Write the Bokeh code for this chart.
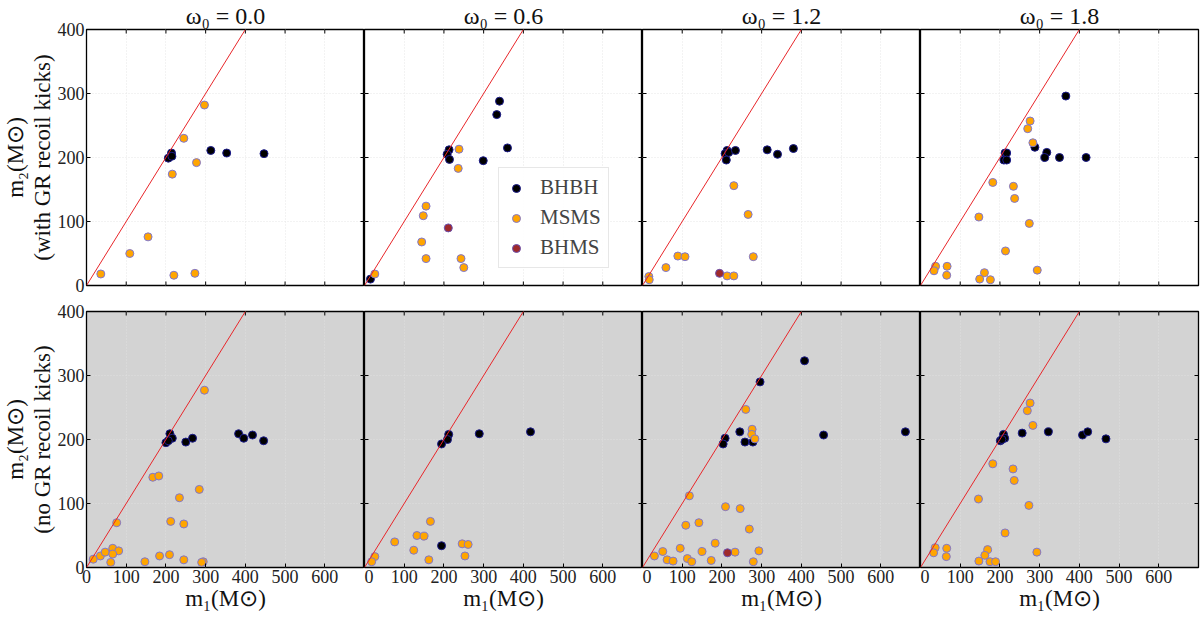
import math

from bokeh.plotting import figure
from bokeh.layouts import gridplot
from bokeh.models import Title, FixedTicker, Range1d, Legend, LegendItem, Slope
from bokeh.embed import file_html
from bokeh.resources import INLINE

OMEGAS = ["0.0", "0.6", "1.2", "1.8"]
ROW_NOTES = ["(with GR recoil kicks)", "(no GR recoil kicks)"]
X_TICKS = [0, 100, 200, 300, 400, 500, 600]
Y_TICKS = [0, 100, 200, 300, 400]
TYPES = ["BHBH", "MSMS", "BHMS"]

# ---- merger masses (M_sun), with GR recoil kicks ----
gr_w00_bhbh_m1 = [214, 206, 215, 313, 353, 447]
gr_w00_bhbh_m2 = [207, 199, 202, 211, 207, 206]
gr_w00_msms_m1 = [297, 245, 277, 216, 155, 109, 36, 220, 273]
gr_w00_msms_m2 = [282, 230, 192, 174, 76, 50, 18, 16, 19]
gr_w00_bhms_m1 = []
gr_w00_bhms_m2 = []

gr_w06_bhbh_m1 = [340, 333, 360, 299, 213, 208, 214, 15]
gr_w06_bhbh_m2 = [288, 267, 215, 195, 212, 205, 197, 10]
gr_w06_msms_m1 = [238, 236, 155, 148, 144, 155, 243, 250, 26]
gr_w06_msms_m2 = [213, 183, 124, 109, 68, 42, 42, 28, 18]
gr_w06_bhms_m1 = [211]
gr_w06_bhms_m2 = [90]

gr_w12_bhbh_m1 = [213, 208, 211, 217, 234, 314, 340, 380]
gr_w12_bhbh_m2 = [211, 206, 196, 208, 211, 212, 205, 214]
gr_w12_msms_m1 = [230, 266, 279, 89, 107, 59, 213, 230, 16, 17]
gr_w12_msms_m2 = [156, 111, 45, 46, 45, 28, 15, 15, 14, 9]
gr_w12_bhms_m1 = [194]
gr_w12_bhms_m2 = [19]

gr_w18_bhbh_m1 = [366, 288, 318, 313, 350, 417, 213, 217, 210, 217]
gr_w18_bhbh_m2 = [296, 216, 208, 200, 200, 200, 207, 207, 196, 196]
gr_w18_msms_m1 = [276, 270, 283, 182, 234, 237, 147, 274, 214, 38, 34, 67, 66, 294, 161, 149, 176]
gr_w18_msms_m2 = [257, 245, 223, 161, 155, 136, 107, 97, 54, 30, 23, 30, 16, 24, 20, 10, 9]
gr_w18_bhms_m1 = []
gr_w18_bhms_m2 = []

# ---- merger masses (M_sun), no GR recoil kicks ----
nogr_w00_bhbh_m1 = [210, 216, 200, 206, 250, 267, 383, 396, 418, 446]
nogr_w00_bhbh_m2 = [209, 202, 195, 198, 196, 202, 209, 202, 207, 198]
nogr_w00_msms_m1 = [297, 167, 182, 284, 234, 76, 212, 245, 17, 35, 47, 66, 81, 66, 61, 147, 184, 209, 245, 294, 290]
nogr_w00_msms_m2 = [277, 141, 143, 122, 109, 70, 72, 68, 13, 18, 24, 30, 26, 21, 8, 9, 18, 20, 12, 9, 8]
nogr_w00_bhms_m1 = []
nogr_w00_bhms_m2 = []

nogr_w06_bhbh_m1 = [212, 209, 194, 289, 418, 194]
nogr_w06_bhbh_m2 = [208, 200, 193, 209, 212, 34]
nogr_w06_msms_m1 = [166, 132, 150, 76, 124, 162, 246, 261, 253, 26, 18]
nogr_w06_msms_m2 = [72, 50, 49, 40, 27, 12, 37, 36, 18, 17, 9]
nogr_w06_bhms_m1 = []
nogr_w06_bhms_m2 = []

nogr_w12_bhbh_m1 = [408, 296, 245, 208, 203, 258, 278, 456, 662]
nogr_w12_bhbh_m2 = [323, 290, 212, 202, 193, 196, 196, 207, 212]
nogr_w12_msms_m1 = [260, 276, 275, 283, 118, 209, 246, 269, 109, 142, 183, 95, 150, 233, 293,
                    51, 30, 62, 77, 113, 124, 173, 279]
nogr_w12_msms_m2 = [247, 216, 208, 201, 112, 95, 92, 60, 66, 70, 38, 30, 25, 24, 26,
                    25, 18, 12, 10, 14, 9, 11, 9]
nogr_w12_bhms_m1 = [214]
nogr_w12_bhms_m2 = [23]

nogr_w18_bhbh_m1 = [209, 212, 201, 205, 256, 322, 408, 421, 467]
nogr_w18_bhbh_m2 = [208, 202, 198, 200, 210, 212, 207, 212, 201]
nogr_w18_msms_m1 = [276, 269, 283, 182, 233, 236, 146, 273, 213, 37, 33, 66, 65, 293, 169, 162, 147, 175, 189]
nogr_w18_msms_m2 = [257, 245, 222, 162, 154, 136, 107, 97, 54, 31, 23, 30, 17, 24, 28, 19, 10, 9, 9]
nogr_w18_bhms_m1 = []
nogr_w18_bhms_m2 = []

PANELS = [
    [
        [(gr_w00_bhbh_m1, gr_w00_bhbh_m2), (gr_w00_msms_m1, gr_w00_msms_m2), (gr_w00_bhms_m1, gr_w00_bhms_m2)],
        [(gr_w06_bhbh_m1, gr_w06_bhbh_m2), (gr_w06_msms_m1, gr_w06_msms_m2), (gr_w06_bhms_m1, gr_w06_bhms_m2)],
        [(gr_w12_bhbh_m1, gr_w12_bhbh_m2), (gr_w12_msms_m1, gr_w12_msms_m2), (gr_w12_bhms_m1, gr_w12_bhms_m2)],
        [(gr_w18_bhbh_m1, gr_w18_bhbh_m2), (gr_w18_msms_m1, gr_w18_msms_m2), (gr_w18_bhms_m1, gr_w18_bhms_m2)],
    ],
    [
        [(nogr_w00_bhbh_m1, nogr_w00_bhbh_m2), (nogr_w00_msms_m1, nogr_w00_msms_m2), (nogr_w00_bhms_m1, nogr_w00_bhms_m2)],
        [(nogr_w06_bhbh_m1, nogr_w06_bhbh_m2), (nogr_w06_msms_m1, nogr_w06_msms_m2), (nogr_w06_bhms_m1, nogr_w06_bhms_m2)],
        [(nogr_w12_bhbh_m1, nogr_w12_bhbh_m2), (nogr_w12_msms_m1, nogr_w12_msms_m2), (nogr_w12_bhms_m1, nogr_w12_bhms_m2)],
        [(nogr_w18_bhbh_m1, nogr_w18_bhbh_m2), (nogr_w18_msms_m1, nogr_w18_msms_m2), (nogr_w18_bhms_m1, nogr_w18_bhms_m2)],
    ],
]

FILL = {"BHBH": "#000000", "MSMS": "#ffa500", "BHMS": "#9e2a2b"}
EDGE = {"BHBH": "#1c1c8c", "MSMS": "#7f77d0", "BHMS": "#6a50b0"}
SERIF = "Liberation Serif"
FRAME_W, FRAME_H = 278, 256
X_MAX, Y_MAX = 700, 400
TICK_LEN = 4


def style_axis(ax, ticks):
    ax.ticker = FixedTicker(ticks=ticks)
    ax.major_tick_in = TICK_LEN
    ax.major_tick_out = 0
    ax.minor_tick_in = 0
    ax.minor_tick_out = 0
    ax.major_tick_line_color = "black"
    ax.axis_line_color = None
    ax.major_label_text_font = SERIF
    ax.major_label_text_font_size = "18px"
    ax.major_label_text_color = "#222222"
    ax.major_label_standoff = 2


def inward_ticks(p, side):
    """Short inward tick marks on a frame side that carries no labelled axis."""
    xt = [t for t in X_TICKS if 0 < t < X_MAX]
    yt = [t for t in Y_TICKS if 0 < t < Y_MAX]
    if side == "top":
        p.ray(x=xt, y=[Y_MAX] * len(xt), length=TICK_LEN, length_units="screen",
              angle=-math.pi / 2, line_color="black", line_width=1)
    elif side == "bottom":
        p.ray(x=xt, y=[0] * len(xt), length=TICK_LEN, length_units="screen",
              angle=math.pi / 2, line_color="black", line_width=1)
    elif side == "left":
        p.ray(x=[0] * len(yt), y=yt, length=TICK_LEN, length_units="screen",
              angle=0, line_color="black", line_width=1)
    else:
        p.ray(x=[X_MAX] * len(yt), y=yt, length=TICK_LEN, length_units="screen",
              angle=math.pi, line_color="black", line_width=1)


figs = []
for r in range(2):
    row = []
    for c in range(4):
        p = figure(
            frame_width=FRAME_W, frame_height=FRAME_H,
            x_range=Range1d(0, X_MAX), y_range=Range1d(0, Y_MAX),
            output_backend="svg", toolbar_location=None, tools="",
            min_border_left=85 if c == 0 else 0,
            min_border_right=3 if c == 3 else 0,
            min_border_top=29 if r == 0 else 16,
            min_border_bottom=10 if r == 0 else 49,
        )
        p.background_fill_color = "white" if r == 0 else "#d3d3d3"
        p.border_fill_color = "white"
        p.outline_line_color = "black"
        p.outline_line_width = 1.3

        xax = p.xaxis[0]
        yax = p.yaxis[0]
        style_axis(xax, X_TICKS)
        style_axis(yax, Y_TICKS)
        if r == 0:
            xax.visible = False
            inward_ticks(p, "bottom")
        if c > 0:
            yax.visible = False
            inward_ticks(p, "left")
        inward_ticks(p, "top")
        inward_ticks(p, "right")

        grid_col = "#e6e6e6" if r == 0 else "#dedede"
        p.xgrid[0].ticker = FixedTicker(ticks=X_TICKS)
        p.ygrid[0].ticker = FixedTicker(ticks=Y_TICKS)
        for g in (p.xgrid[0], p.ygrid[0]):
            g.grid_line_color = grid_col
            g.grid_line_dash = "1 2"
            g.grid_line_width = 1

        if r == 0:
            p.title = Title(text=f"ω₀ = {OMEGAS[c]}", align="center",
                            text_font=SERIF, text_font_size="24px",
                            text_font_style="normal", text_color="#111111", standoff=1)
        else:
            xax.axis_label = "m₁(M⊙)"
            xax.axis_label_text_font = SERIF
            xax.axis_label_text_font_size = "23px"
            xax.axis_label_text_font_style = "normal"
            xax.axis_label_text_color = "#111111"
            xax.axis_label_standoff = 0

        if c == 0:
            p.add_layout(Title(text=ROW_NOTES[r], align="center", text_font=SERIF,
                               text_font_size="23px", text_font_style="normal",
                               text_color="#111111", standoff=0), "left")
            p.add_layout(Title(text="m₂(M⊙)", align="center", text_font=SERIF,
                               text_font_size="23px", text_font_style="normal",
                               text_color="#111111", standoff=0), "left")

        # equal-mass line m2 = m1
        p.add_layout(Slope(gradient=1, y_intercept=0, line_color="#e8262a", line_width=1))

        renderers = {}
        for t, (m1, m2) in zip(TYPES, PANELS[r][c]):
            renderers[t] = p.scatter(m1, m2, size=8, marker="circle",
                                     fill_color=FILL[t], line_color=EDGE[t], line_width=1)

        if r == 0 and c == 1:
            legend = Legend(items=[LegendItem(label=t, renderers=[renderers[t]]) for t in TYPES],
                            location=(134, 17))
            legend.label_text_font = SERIF
            legend.label_text_font_size = "21px"
            legend.label_standoff = 14
            legend.glyph_width = 20
            legend.padding = 7
            legend.spacing = 5
            legend.border_line_color = "#d0d0d0"
            legend.border_line_width = 1
            legend.background_fill_alpha = 0.85
            p.add_layout(legend, "center")
        row.append(p)
    figs.append(row)

grid = gridplot(figs, toolbar_location=None)
open("out.html", "w").write(file_html(grid, INLINE))
